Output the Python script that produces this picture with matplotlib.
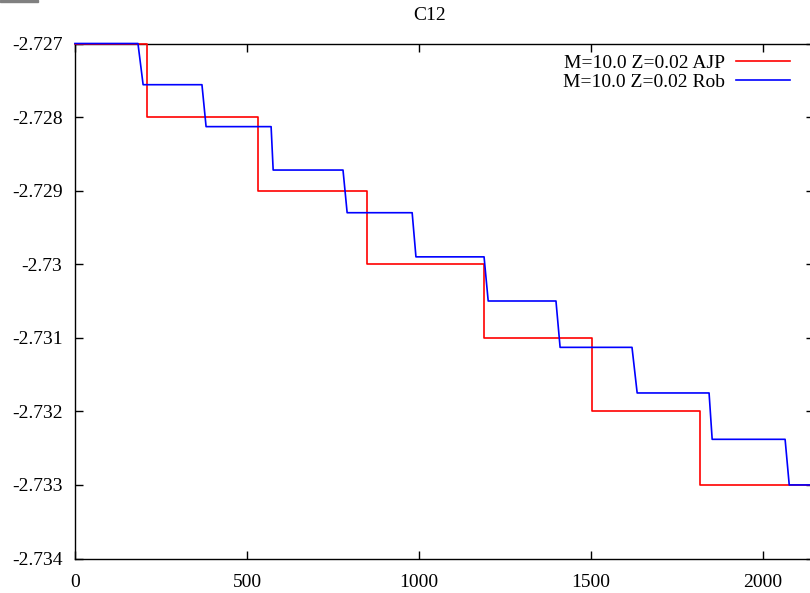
import matplotlib.pyplot as plt
from matplotlib.ticker import FormatStrFormatter
from matplotlib.patches import Rectangle

plt.rcParams['font.family'] = 'Liberation Serif'
plt.rcParams['axes.unicode_minus'] = False

# AJP: sharp steps, x where each drop happens and the level after it
ajp_drops = [209, 532, 849, 1189, 1503, 1817]
ajp_levels = [-2.727, -2.728, -2.729, -2.730, -2.731, -2.732, -2.733]

# Rob: drops are slightly sloped, so keep start and end of each drop
rob_drop_start = [183, 369, 570, 779, 980, 1189, 1398, 1619, 1843, 2064]
rob_drop_end = [198, 381, 576, 791, 991, 1201, 1410, 1634, 1852, 2076]
rob_levels = [-2.727, -2.72756, -2.72813, -2.72872, -2.7293, -2.7299,
              -2.7305, -2.73113, -2.73175, -2.73238, -2.733]

x_end = 2300

# build polylines
ajp_x = [0]
ajp_y = [ajp_levels[0]]
for i, d in enumerate(ajp_drops):
    ajp_x += [d, d]
    ajp_y += [ajp_levels[i], ajp_levels[i + 1]]
ajp_x.append(x_end)
ajp_y.append(ajp_levels[-1])

rob_x = [0]
rob_y = [rob_levels[0]]
for i, (s, e) in enumerate(zip(rob_drop_start, rob_drop_end)):
    rob_x += [s, e]
    rob_y += [rob_levels[i], rob_levels[i + 1]]
rob_x.append(x_end)
rob_y.append(rob_levels[-1])

fig = plt.figure(figsize=(8.10, 5.93), dpi=100)
ax = fig.add_axes([75 / 810, 34.5 / 593, 739 / 810, 515 / 593])

ax.plot(ajp_x, ajp_y, color='#ff0000', lw=1.2, label='M=10.0 Z=0.02 AJP',
        clip_on=False, zorder=3)
ax.plot(rob_x, rob_y, color='#0000ff', lw=1.2, label='M=10.0 Z=0.02 Rob',
        clip_on=False, zorder=3)

ax.set_xlim(0, 2148)
ax.set_ylim(-2.734, -2.727)
ax.set_xticks([0, 500, 1000, 1500, 2000])
ax.set_yticks([-2.734, -2.733, -2.732, -2.731, -2.730, -2.729, -2.728, -2.727])
ax.yaxis.set_major_formatter(FormatStrFormatter('%g'))
ax.xaxis.set_major_formatter(FormatStrFormatter('%g'))
ax.tick_params(direction='in', length=6, width=1, top=True, right=True,
               labelsize=14)
ax.tick_params(axis='y', pad=9)
ax.tick_params(axis='x', pad=11.5)
for sp in ax.spines.values():
    sp.set_linewidth(1)

leg = ax.legend(loc='upper right', bbox_to_anchor=(715 / 739, 1 - 11 / 515),
                frameon=False, fontsize=14, markerfirst=False,
                handlelength=2.8, handletextpad=0.55, labelspacing=0.05,
                borderaxespad=0, borderpad=0)

fig.text(430 / 810, 1 - 15.5 / 593, 'C12', ha='center', va='center', fontsize=14)
fig.patches.append(Rectangle((0, 1 - 2 / 593), 38 / 810, 2 / 593,
                             transform=fig.transFigure, color='#808080'))

fig.savefig('out.png', dpi=100)
